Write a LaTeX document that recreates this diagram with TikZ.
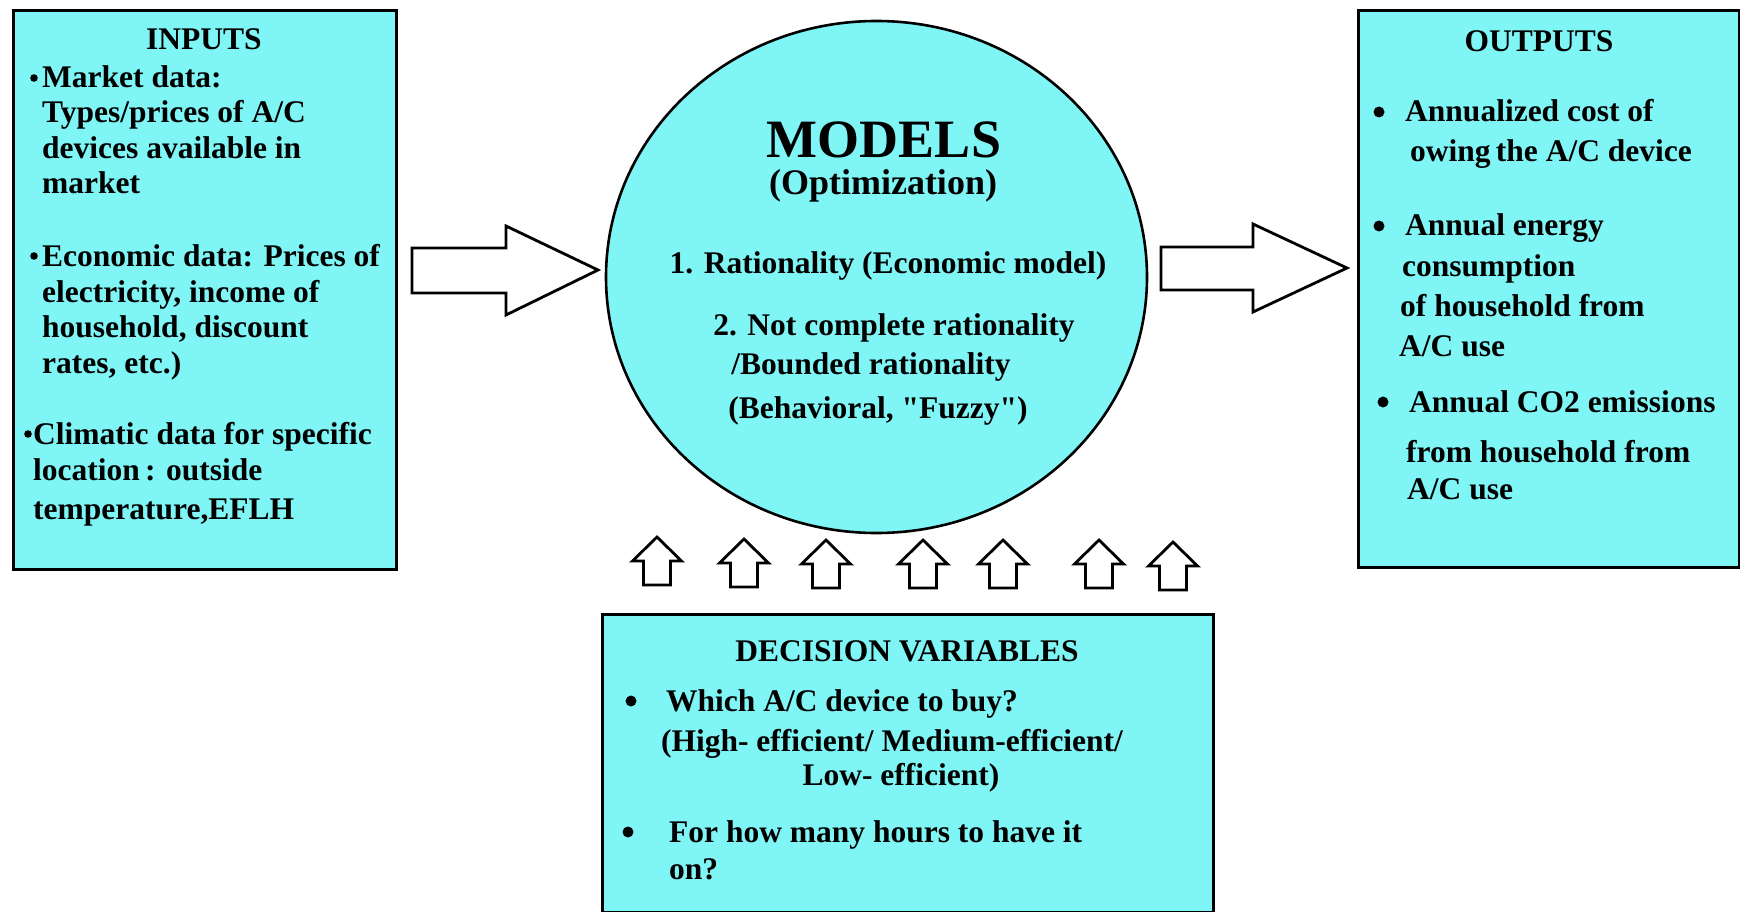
\documentclass[tikz,border=0pt]{standalone}
\usepackage{fontspec}
\setmainfont{Liberation Serif}
\usetikzlibrary{shapes.geometric}
\definecolor{boxcyan}{RGB}{128,245,245}
\newcommand{\blockup}[2]{%
  \draw[arrowshape] (#1-13.5,#2+48) -- (#1+13.5,#2+48) -- (#1+13.5,#2+24) -- (#1+24.5,#2+24)
    -- (#1,#2) -- (#1-24.5,#2+24) -- (#1-13.5,#2+24) -- cycle;}
\begin{document}
\begin{tikzpicture}[x=1pt,y=-1pt,
  panel/.style={draw=black, line width=2.6pt, fill=boxcyan, rectangle, inner sep=0pt, anchor=north west},
  arrowshape/.style={draw=black, line width=2.8pt, fill=white, line join=miter},
  txt/.style={font=\fontsize{31.5}{36}\selectfont\bfseries, inner sep=0pt, anchor=base west},
  ctxt/.style={font=\fontsize{31.5}{36}\selectfont\bfseries, inner sep=0pt, anchor=base},
  bul/.style={fill=black}]
\useasboundingbox (0,0) rectangle (1740,912);
\fill[white] (0,0) rectangle (1740,912);

% boxes
\node[panel, minimum width=383pt, minimum height=559pt] (inputs) at (12,9) {};
\node[panel, minimum width=381pt, minimum height=557pt] (outputs) at (1357,9) {};
\node[panel, minimum width=611pt, minimum height=298pt] (decision) at (601,613) {};
\node[ellipse, draw=black, line width=2.6pt, fill=boxcyan, inner sep=0pt,
      minimum width=541pt, minimum height=512pt] (models) at (876.5,277) {};

% big arrows
\draw[arrowshape] (412,248) -- (506,248) -- (506,226) -- (598,270) -- (506,315) -- (506,293) -- (412,293) -- cycle;
\draw[arrowshape] (1161,247) -- (1253,247) -- (1253,224) -- (1347,268) -- (1253,312) -- (1253,290) -- (1161,290) -- cycle;

% small up arrows
\blockup{657}{537}
\blockup{744}{539}
\blockup{826}{540}
\blockup{923}{540}
\blockup{1003}{540}
\blockup{1099}{540}
\blockup{1173}{542}

% inputs text
\node[ctxt] (inT) at (204,50) {INPUTS};
\fill[bul] (34,78) circle (3.8);
\node[txt] (in1) at (42,88) {Market data:};
\node[txt] (in2) at (42,123) {Types/prices of A/C};
\node[txt] (in3) at (42,159) {devices available in};
\node[txt] (in4) at (42,194) {market};
\fill[bul] (34,256) circle (3.8);
\node[txt] (in5) at (42,266) {Economic data: Prices of};
\node[txt] (in6) at (42,302) {electricity, income of};
\node[txt] (in7) at (42,337) {household, discount};
\node[txt] (in8) at (42,373) {rates, etc.)};
\fill[bul] (28,434) circle (3.8);
\node[txt] (in9) at (33,444) {Climatic data for specific};
\node[txt] (in10) at (33,480) {location\,: outside};
\node[txt] (in11) at (33,519) {temperature,EFLH};

% outputs text
\node[ctxt] (outT) at (1539,52) {OUTPUTS};
\fill[bul] (1379,112) circle (5.5);
\node[txt] (out1) at (1405,122) {Annualized cost of};
\node[txt] (out2) at (1410,162) {owing\,the A/C device};
\fill[bul] (1379,226) circle (5.5);
\node[txt] (out3) at (1405,236) {Annual energy};
\node[txt] (out4) at (1402,276) {consumption};
\node[txt] (out5) at (1400,316) {of household from};
\node[txt] (out6) at (1399,356) {A/C use};
\fill[bul] (1383,402) circle (5.5);
\node[txt] (out7) at (1409,412) {Annual CO2 emissions};
\node[txt] (out8) at (1406,462) {from household from};
\node[txt] (out9) at (1407,499) {A/C use};

% models text
\node[ctxt, font=\fontsize{54}{60}\selectfont\bfseries] (mT) at (884,158) {MODELS};
\node[ctxt, font=\fontsize{36}{40}\selectfont\bfseries] (mS) at (883,195) {(Optimization)};
\node[ctxt] (m1) at (888,273) {1. Rationality (Economic model)};
\node[ctxt] (m2) at (894,335) {2. Not complete rationality};
\node[ctxt] (m3) at (871,374) {/Bounded rationality};
\node[ctxt] (m4) at (878,418) {(Behavioral, \textquotedbl Fuzzy\textquotedbl)};

% decision text
\node[ctxt] (dT) at (907,661) {DECISION VARIABLES};
\fill[bul] (631,701) circle (5.5);
\node[txt] (d1) at (666,711) {Which A/C device to buy?};
\node[ctxt] (d2) at (892,751) {(High- efficient/ Medium-efficient/};
\node[ctxt] (d3) at (901,785) {Low- efficient)};
\fill[bul] (628,832) circle (5.5);
\node[txt] (d4) at (669,842) {For how many hours to have it};
\node[txt] (d5) at (669,879) {on?};
\end{tikzpicture}
\end{document}
